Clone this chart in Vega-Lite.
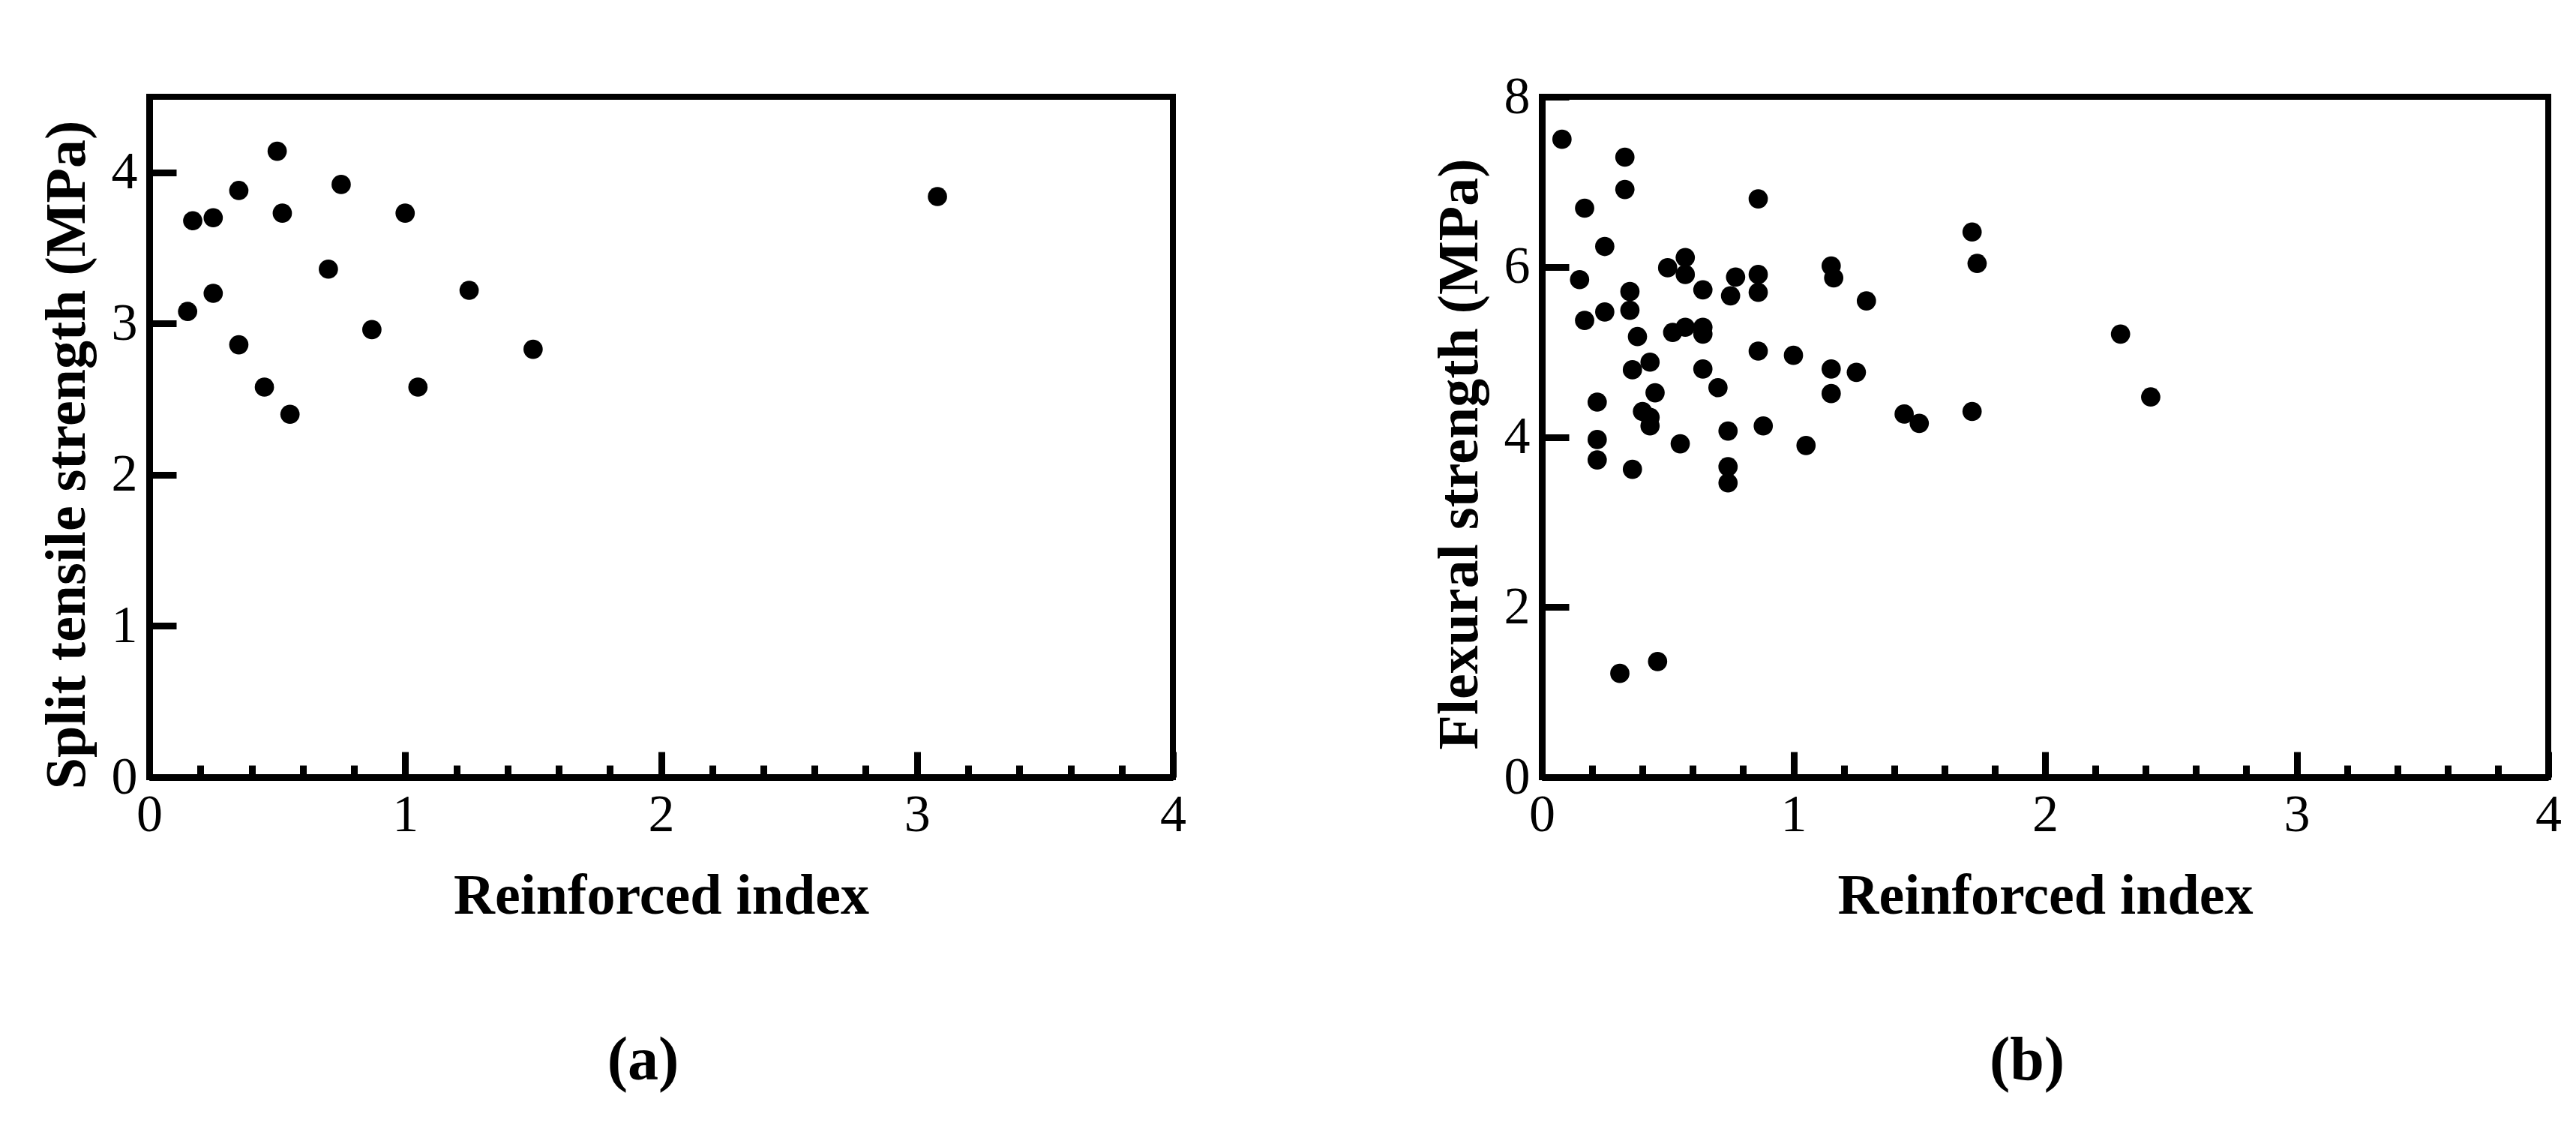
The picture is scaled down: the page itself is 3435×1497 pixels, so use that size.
{
  "$schema": "https://vega.github.io/schema/vega-lite/v6.json",
  "background": "white",
  "padding": {"left": 47, "top": 90, "right": 10, "bottom": 10},
  "datasets": {
    "a": [
      {"ri": 0.50, "v": 4.14}, {"ri": 0.35, "v": 3.88}, {"ri": 0.75, "v": 3.92}, {"ri": 0.17, "v": 3.68},
      {"ri": 0.25, "v": 3.70}, {"ri": 0.52, "v": 3.73}, {"ri": 1.00, "v": 3.73}, {"ri": 0.70, "v": 3.36},
      {"ri": 0.25, "v": 3.20}, {"ri": 0.15, "v": 3.08}, {"ri": 1.25, "v": 3.22}, {"ri": 0.87, "v": 2.96},
      {"ri": 0.35, "v": 2.86}, {"ri": 1.50, "v": 2.83}, {"ri": 0.45, "v": 2.58}, {"ri": 1.05, "v": 2.58},
      {"ri": 0.55, "v": 2.40}, {"ri": 3.08, "v": 3.84}
    ],
    "b": [
      {"ri": 0.08, "v": 7.50}, {"ri": 0.33, "v": 7.29}, {"ri": 0.33, "v": 6.91}, {"ri": 0.17, "v": 6.69},
      {"ri": 0.86, "v": 6.80}, {"ri": 0.25, "v": 6.24}, {"ri": 1.71, "v": 6.41}, {"ri": 1.73, "v": 6.04},
      {"ri": 0.15, "v": 5.85}, {"ri": 0.50, "v": 5.99}, {"ri": 0.57, "v": 6.11}, {"ri": 0.57, "v": 5.91},
      {"ri": 0.64, "v": 5.73}, {"ri": 0.77, "v": 5.88}, {"ri": 0.75, "v": 5.66}, {"ri": 0.86, "v": 5.91},
      {"ri": 0.86, "v": 5.70}, {"ri": 1.15, "v": 6.01}, {"ri": 1.16, "v": 5.87}, {"ri": 1.29, "v": 5.60},
      {"ri": 0.35, "v": 5.71}, {"ri": 0.35, "v": 5.49}, {"ri": 0.25, "v": 5.47}, {"ri": 0.17, "v": 5.37},
      {"ri": 0.38, "v": 5.18}, {"ri": 0.52, "v": 5.23}, {"ri": 0.57, "v": 5.29}, {"ri": 0.64, "v": 5.29},
      {"ri": 0.64, "v": 5.21}, {"ri": 0.86, "v": 5.01}, {"ri": 1.00, "v": 4.96}, {"ri": 0.43, "v": 4.88},
      {"ri": 0.36, "v": 4.79}, {"ri": 0.64, "v": 4.80}, {"ri": 1.15, "v": 4.80}, {"ri": 1.25, "v": 4.76},
      {"ri": 0.70, "v": 4.58}, {"ri": 0.45, "v": 4.52}, {"ri": 1.15, "v": 4.51}, {"ri": 0.22, "v": 4.41},
      {"ri": 0.40, "v": 4.30}, {"ri": 0.43, "v": 4.23}, {"ri": 1.71, "v": 4.30}, {"ri": 1.44, "v": 4.27},
      {"ri": 1.50, "v": 4.16}, {"ri": 0.43, "v": 4.13}, {"ri": 0.74, "v": 4.07}, {"ri": 0.88, "v": 4.13},
      {"ri": 0.22, "v": 3.97}, {"ri": 0.55, "v": 3.92}, {"ri": 1.05, "v": 3.90}, {"ri": 0.22, "v": 3.73},
      {"ri": 0.36, "v": 3.62}, {"ri": 0.74, "v": 3.65}, {"ri": 0.74, "v": 3.46}, {"ri": 0.31, "v": 1.22},
      {"ri": 0.46, "v": 1.36}, {"ri": 2.30, "v": 5.21}, {"ri": 2.42, "v": 4.47}
    ]
  },
  "config": {
    "view": {"stroke": "black", "strokeWidth": 8},
    "concat": {"spacing": 318},
    "axis": {
      "grid": false,
      "domainColor": "black",
      "domainWidth": 9,
      "tickColor": "black",
      "tickWidth": 9,
      "labelColor": "black",
      "labelFont": "Liberation Serif",
      "labelFontSize": 70,
      "labelFlush": false,
      "labelBound": false,
      "labelOverlap": false,
      "titleColor": "black",
      "titleFont": "Liberation Serif",
      "titleFontSize": 76,
      "titleFontWeight": "bold"
    },
    "title": {
      "font": "Liberation Serif",
      "fontSize": 82,
      "fontWeight": "bold",
      "color": "black",
      "orient": "bottom",
      "anchor": "middle",
      "frame": "group",
      "offset": 142
    }
  },
  "hconcat": [
    {
      "data": {"name": "a"},
      "width": 1365,
      "height": 907,
      "title": {"text": "(a)", "dx": -24},
      "mark": {"type": "circle", "size": 660, "color": "black", "opacity": 1},
      "encoding": {
        "x": {
          "field": "ri", "type": "quantitative",
          "scale": {"domain": [0, 4], "nice": false, "zero": true},
          "axis": {
            "title": "Reinforced index",
            "values": [0, 0.2, 0.4, 0.6, 0.8, 1, 1.2, 1.4, 1.6, 1.8, 2, 2.2, 2.4, 2.6, 2.8, 3, 3.2, 3.4, 3.6, 3.8, 4],
            "labelExpr": "datum.value % 1 === 0 ? format(datum.value, 'd') : ''",
            "tickSize": {"condition": {"test": "datum.value % 1 === 0", "value": -34}, "value": -16},
            "labelPadding": 50,
            "titlePadding": 18
          }
        },
        "y": {
          "field": "v", "type": "quantitative",
          "scale": {"domain": [0, 4.5], "nice": false},
          "axis": {
            "title": "Split tensile strength (MPa)",
            "values": [0, 1, 2, 3, 4],
            "tickSize": -36,
            "labelPadding": 52,
            "titlePadding": 20,
            "titleY": 477
          }
        }
      }
    },
    {
      "data": {"name": "b"},
      "width": 1342,
      "height": 907,
      "title": {"text": "(b)", "dx": -24},
      "mark": {"type": "circle", "size": 660, "color": "black", "opacity": 1},
      "encoding": {
        "x": {
          "field": "ri", "type": "quantitative",
          "scale": {"domain": [0, 4], "nice": false, "zero": true},
          "axis": {
            "title": "Reinforced index",
            "values": [0, 0.2, 0.4, 0.6, 0.8, 1, 1.2, 1.4, 1.6, 1.8, 2, 2.2, 2.4, 2.6, 2.8, 3, 3.2, 3.4, 3.6, 3.8, 4],
            "labelExpr": "datum.value % 1 === 0 ? format(datum.value, 'd') : ''",
            "tickSize": {"condition": {"test": "datum.value % 1 === 0", "value": -34}, "value": -16},
            "labelPadding": 50,
            "titlePadding": 18
          }
        },
        "y": {
          "field": "v", "type": "quantitative",
          "scale": {"domain": [0, 8], "nice": false},
          "axis": {
            "title": "Flexural strength (MPa)",
            "values": [0, 2, 4, 6, 8],
            "tickSize": -36,
            "labelPadding": 52,
            "titlePadding": 20,
            "titleY": 476
          }
        }
      }
    }
  ]
}
